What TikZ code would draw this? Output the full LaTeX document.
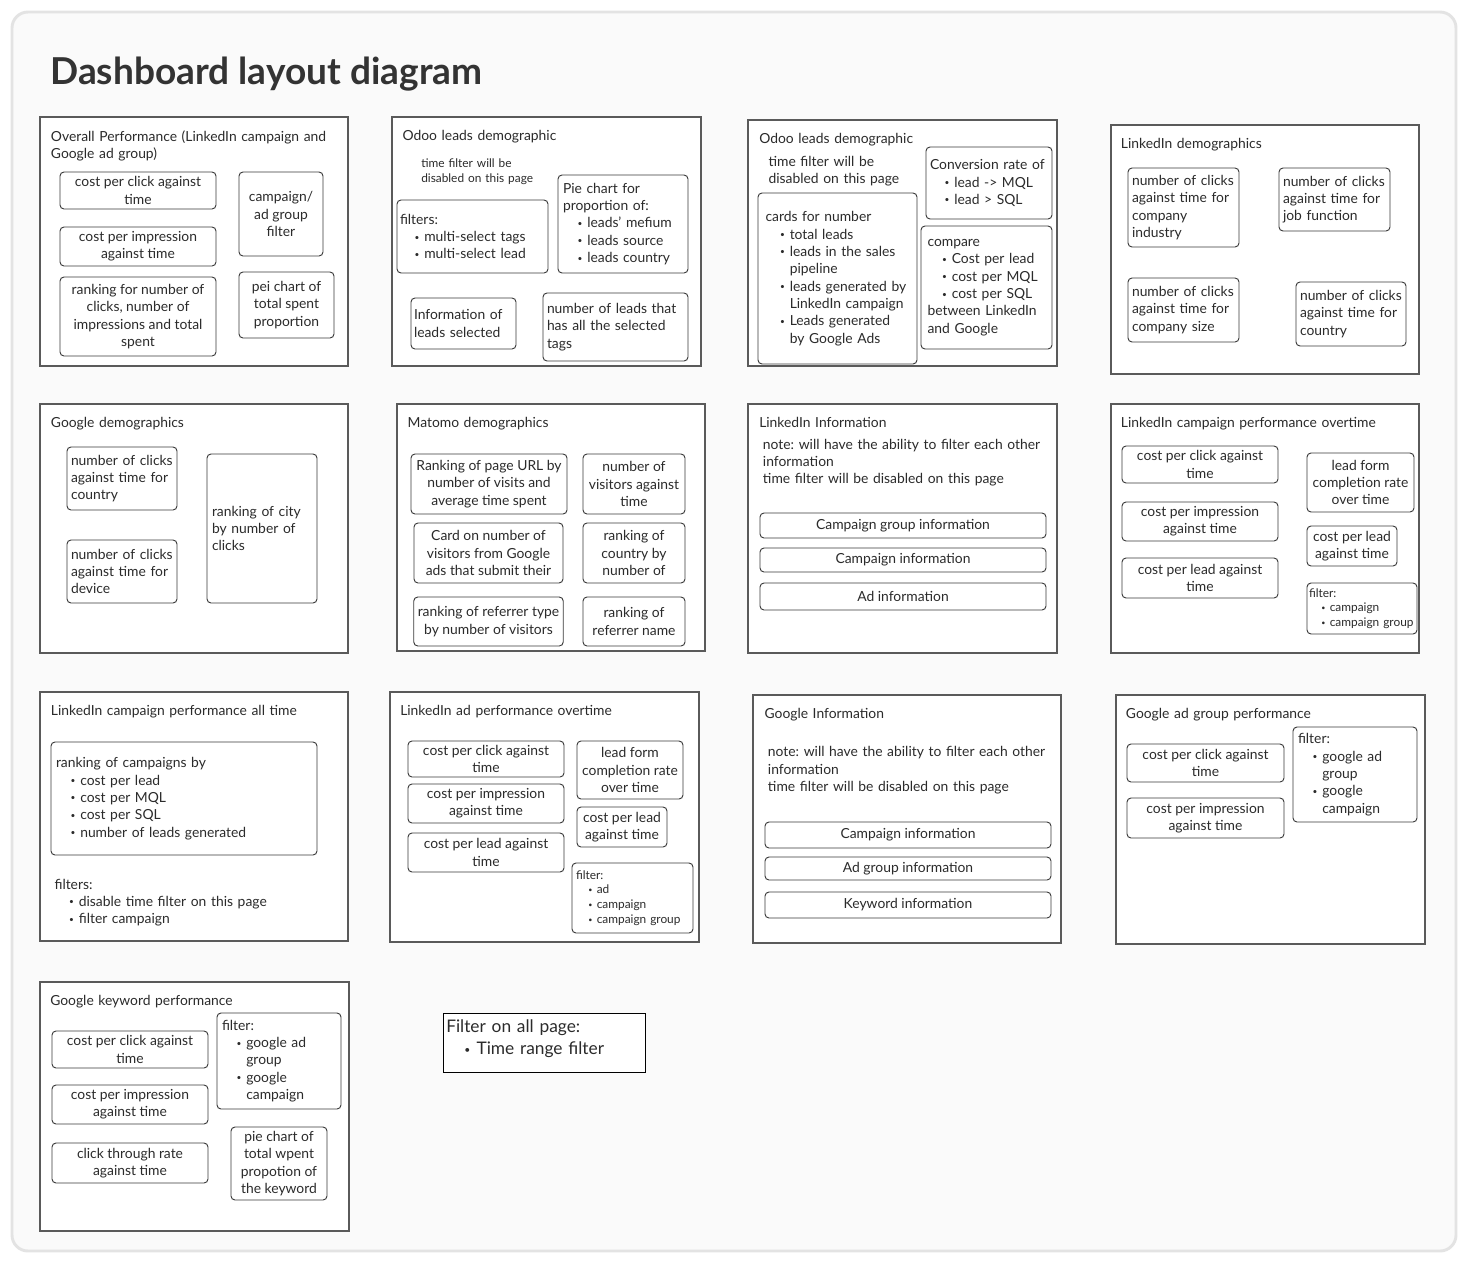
\documentclass[tikz,border=0pt]{standalone}
\usepackage{fontspec}
\setmainfont{Lato}
\frenchspacing
\definecolor{bgc}{HTML}{FAFAFA}
\definecolor{frc}{HTML}{E3E3E3}
\definecolor{pnc}{HTML}{5A5A5A}
\definecolor{bxc}{HTML}{3A3A3A}
\definecolor{tc}{HTML}{2B2B2B}
\definecolor{ttc}{HTML}{333333}
\newcommand\nfont{\fontsize{10.4}{13}\selectfont}
\newcommand\sfont{\fontsize{8.9}{11.6}\selectfont}
\newcommand\xsfont{\fontsize{8.9}{11}\selectfont}
\newcommand\lfont{\fontsize{13}{17.2}\selectfont}
\newcommand\sbul{\raisebox{0.2ex}{\scalebox{0.6}{\textbullet}}}
\newcommand\bulit{\hspace*{1.05em}\makebox[0.7em][l]{\sbul}}
\newcommand\bulcont{\hspace*{1.75em}}
\newcommand\mkbox[7][]{%
  \pgfmathsetmacro\Bw{(#5-#3)*0.75}%
  \pgfmathsetmacro\Bh{(#6-#4)*0.75}%
  \node[ibx,minimum width=\Bw pt,minimum height=\Bh pt,#1] (#2) at ({(#3+#5)/2},{(#4+#6)/2}) {#7};}
\newcommand\mkpanel[5]{%
  \pgfmathsetmacro\Bw{(#4-#2)*0.75}%
  \pgfmathsetmacro\Bh{(#5-#3)*0.75}%
  \node[pnl,minimum width=\Bw pt,minimum height=\Bh pt] (#1) at ({(#2+#4)/2},{(#3+#5)/2}) {};}
\newcommand\mktext[5][]{\node[ftxt,#1] (#2) at (#3,#4) {#5};}
\tikzset{
 ibx/.style={draw=bxc,line width=0.7pt,rounded corners=3pt,fill=white,inner ysep=0pt,inner xsep=3pt,align=center,font=\nfont,text=tc},
 pnl/.style={draw=pnc,line width=0.8pt,fill=white,inner sep=0pt},
 ftxt/.style={inner sep=0pt,font=\nfont,text=tc,align=left,text width=330pt,anchor=base west},
 lft/.code={\pgfmathsetmacro\Pd{#1*0.75}\pgfmathsetmacro\Tw{\Bw-2*\Pd}\pgfkeysalso{align=left,inner xsep=\Pd pt,text width=\Tw pt}},
 lft/.default=4,
}
\begin{document}
\begin{tikzpicture}[x=0.75pt,y=-0.75pt]
\useasboundingbox (0,0) rectangle (1469,1264);
\fill[white] (0,0) rectangle (1469,1264);
\draw[frc,line width=2.2pt,fill=bgc,rounded corners=12pt] (12,12) rectangle (1456,1251);
\node[font=\fontsize{27.8}{32}\selectfont\bfseries,text=ttc,anchor=base west,inner sep=0pt] (title) at (50,84) {Dashboard layout diagram};

% Panel 1
\mkpanel{p1}{40}{117}{348}{366}
\mktext{p1t}{50.7}{141}{Overall Performance (LinkedIn campaign and\\Google ad group)}
\mkbox{p1a}{60}{172}{216}{209}{cost per click against\\time}
\mkbox{p1b}{60}{227}{216}{266}{cost per impression\\against time}
\mkbox{p1c}{60}{277}{216}{356}{ranking for number of\\clicks, number of\\impressions and total\\spent}
\mkbox{p1d}{239}{172}{323}{256}{campaign/\\ad group\\filter}
\mkbox{p1e}{239}{272}{334}{338}{pei chart of\\total spent\\proportion}

% Panel 2
\mkpanel{p2}{392}{117}{701}{366}
\mktext{p2t}{402.3}{140}{Odoo leads demographic}
\begin{scope}
\clip (405,150) rectangle (560,184);
\mktext[font=\sfont]{p2n}{421}{167.3}{time filter will be\\disabled on this page}
\end{scope}
\mkbox[lft=3]{p2a}{397}{200}{548}{273}{filters:\\\bulit multi-select tags\\\bulit multi-select lead}
\mkbox[lft=5]{p2b}{558}{175}{688}{273}{Pie chart for\\proportion of:\\\bulit leads{\char"27} mefium\\\bulit leads source\\\bulit leads country}
\mkbox[lft=3]{p2c}{411}{298}{516}{349}{Information of\\leads selected}
\mkbox[lft=4]{p2d}{543}{293}{688}{361}{number of leads that\\has all the selected\\tags}

% Panel 3
\mkpanel{p3}{748}{120}{1057}{366}
\mktext{p3t}{759}{143.3}{Odoo leads demographic}
\mktext{p3n}{768.3}{166}{time filter will be\\disabled on this page}
\mkbox[lft=7.5]{p3a}{758}{193}{917}{364}{cards for number\\\bulit total leads\\\bulit leads in the sales\\\bulcont pipeline\\\bulit leads generated by\\\bulcont LinkedIn campaign\\\bulit Leads generated\\\bulcont by Google Ads}
\mkbox[lft=4]{p3b}{926}{147}{1052}{219}{Conversion rate of\\\bulit lead -> MQL\\\bulit lead > SQL}
\mkbox[lft=6.5]{p3c}{921}{226}{1052}{349}{compare\\\bulit Cost per lead\\\bulit cost per MQL\\\bulit cost per SQL\\between LinkedIn\\and Google}

% Panel 4
\mkpanel{p4}{1111}{125}{1419}{374}
\mktext{p4t}{1120.7}{148.3}{LinkedIn demographics}
\mkbox[lft=4]{p4a}{1128}{168}{1239}{247}{number of clicks\\against time for\\company\\industry}
\mkbox[lft=4]{p4b}{1279}{168}{1390}{231}{number of clicks\\against time for\\job function}
\mkbox[lft=4]{p4c}{1128}{278}{1239}{342}{number of clicks\\against time for\\company size}
\mkbox[lft=4]{p4d}{1296}{282}{1406}{346}{number of clicks\\against time for\\country}

% Panel 5
\mkpanel{p5}{40}{404}{348}{653}
\mktext{p5t}{50.7}{427.7}{Google demographics}
\mkbox[lft=4]{p5a}{67}{447}{177}{510}{number of clicks\\against time for\\country}
\mkbox[lft=4]{p5b}{67}{540}{177}{603}{number of clicks\\against time for\\device}
\mkbox[lft=5]{p5c}{207}{454}{317}{603}{ranking of city\\by number of\\clicks}

% Panel 6
\mkpanel{p6}{397}{404}{705}{651}
\mktext{p6t}{407.3}{427.7}{Matomo demographics}
\mkbox{p6a}{411}{454}{567}{514}{Ranking of page URL by\\number of visits and\\average time spent}
\mkbox{p6b}{583}{454}{685}{514}{number of\\visitors against\\time}
\mkbox{p6c}{414}{523}{563}{583}{Card on number of\\visitors from Google\\ads that submit their}
\mkbox{p6d}{583}{523}{685}{583}{ranking of\\country by\\number of}
\mkbox{p6e}{414}{597}{563}{646}{ranking of referrer type\\by number of visitors}
\mkbox{p6f}{583}{597}{685}{646}{ranking of\\referrer name}

% Panel 7
\mkpanel{p7}{748}{404}{1057}{653}
\mktext{p7t}{759}{427.3}{LinkedIn Information}
\mktext{p7n}{762.7}{449}{note: will have the ability to filter each other\\information\\time filter will be disabled on this page}
\mkbox{p7a}{760}{513}{1046}{538}{Campaign group information}
\mkbox{p7b}{760}{548}{1046}{572}{Campaign information}
\mkbox{p7c}{760}{583}{1046}{610}{Ad information}

% Panel 8
\mkpanel{p8}{1111}{404}{1419}{653}
\mktext{p8t}{1120.7}{427.7}{LinkedIn campaign performance overtime}
\mkbox{p8a}{1122}{446}{1278}{483}{cost per click against\\time}
\mkbox{p8b}{1122}{502}{1278}{541}{cost per impression\\against time}
\mkbox{p8c}{1122}{558}{1278}{598}{cost per lead against\\time}
\mkbox{p8d}{1307}{453}{1414}{512}{lead form\\completion rate\\over time}
\mkbox{p8e}{1307}{526}{1397}{566}{cost per lead\\against time}
\mkbox[lft=2,font=\xsfont]{p8f}{1307}{583}{1417}{634}{filter:\\\bulit campaign\\\bulit campaign group}

% Panel 9
\mkpanel{p9}{40}{692}{348}{941}
\mktext{p9t}{50.7}{715.7}{LinkedIn campaign performance all time}
\mkbox[lft=5]{p9a}{51}{742}{317}{855}{ranking of campaigns by\\\bulit cost per lead\\\bulit cost per MQL\\\bulit cost per SQL\\\bulit number of leads generated}
\mktext{p9n}{54.3}{889}{filters:\\\bulit disable time filter on this page\\\bulit filter campaign}

% Panel 10
\mkpanel{p10}{390}{692}{699}{942}
\mktext{p10t}{400}{715.7}{LinkedIn ad performance overtime}
\mkbox{p10a}{408}{741}{564}{777}{cost per click against\\time}
\mkbox{p10b}{408}{784}{564}{823}{cost per impression\\against time}
\mkbox{p10c}{408}{833}{564}{872}{cost per lead against\\time}
\mkbox{p10d}{577}{741}{683}{799}{lead form\\completion rate\\over time}
\mkbox{p10e}{577}{807}{667}{847}{cost per lead\\against time}
\mkbox[lft=4,font=\xsfont]{p10f}{572}{863}{693}{933}{filter:\\\bulit ad\\\bulit campaign\\\bulit campaign group}

% Panel 11
\mkpanel{p11}{753}{695}{1061}{943}
\mktext{p11t}{764.3}{718.3}{Google Information}
\mktext{p11n}{767.7}{756.7}{note: will have the ability to filter each other\\information\\time filter will be disabled on this page}
\mkbox{p11a}{765}{822}{1051}{848}{Campaign information}
\mkbox{p11b}{765}{857}{1051}{880}{Ad group information}
\mkbox{p11c}{765}{892}{1051}{918}{Keyword information}

% Panel 12
\mkpanel{p12}{1116}{695}{1425}{944}
\mktext{p12t}{1125.7}{718.3}{Google ad group performance}
\mkbox{p12a}{1127}{744}{1284}{782}{cost per click against\\time}
\mkbox{p12b}{1127}{798}{1284}{838}{cost per impression\\against time}
\mkbox[lft=5]{p12c}{1293}{727}{1417}{822}{filter:\\\bulit google ad\\\bulcont group\\\bulit google\\\bulcont campaign}

% Panel 13
\mkpanel{p13}{40}{982}{349}{1231}
\mktext{p13t}{50}{1005}{Google keyword performance}
\mkbox{p13a}{52}{1031}{208}{1068}{cost per click against\\time}
\mkbox{p13b}{52}{1085}{208}{1124}{cost per impression\\against time}
\mkbox{p13c}{52}{1143}{208}{1183}{click through rate\\against time}
\mkbox[lft=5]{p13d}{217}{1013}{341}{1109}{filter:\\\bulit google ad\\\bulcont group\\\bulit google\\\bulcont campaign}
\mkbox{p13e}{231}{1127}{327}{1200}{pie chart of\\total wpent\\propotion of\\the keyword}

% Filter on all page
\mkbox[rounded corners=0pt,draw=black]{allf}{443}{1013}{645}{1072}{}
\mktext[font=\lfont]{allft}{446}{1032}{Filter on all page:\\\bulit Time range filter}
\end{tikzpicture}
\end{document}
